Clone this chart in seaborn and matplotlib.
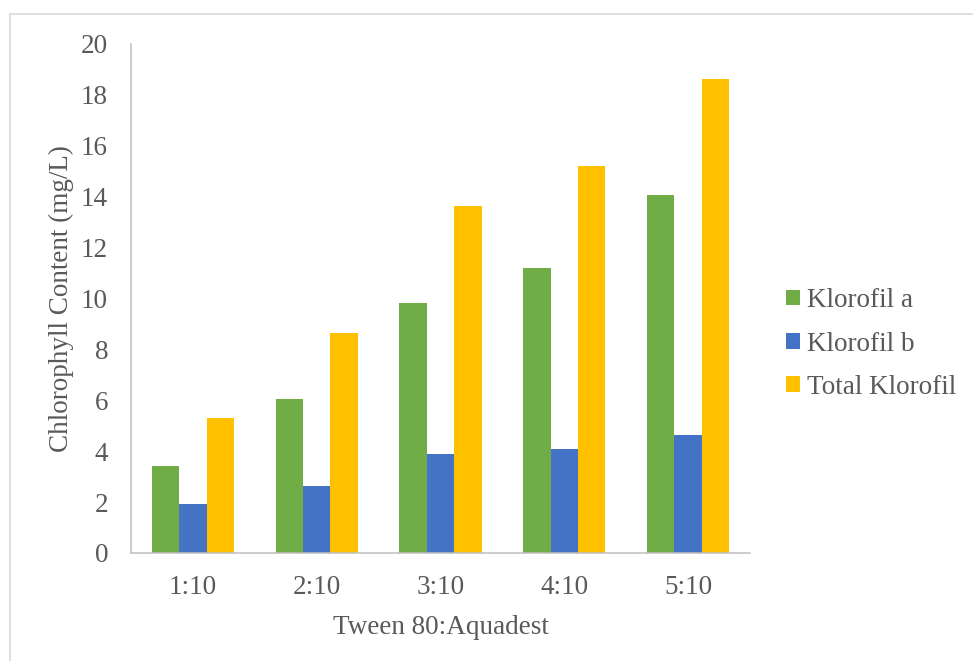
import matplotlib
matplotlib.use("Agg")
import matplotlib.pyplot as plt
from matplotlib.lines import Line2D
from matplotlib.patches import Patch
import seaborn as sns
import pandas as pd

# ---- data ----
categories = ["1:10", "2:10", "3:10", "4:10", "5:10"]
klorofil_a = [3.41, 6.07, 9.81, 11.18, 14.08]
klorofil_b = [1.92, 2.62, 3.88, 4.08, 4.62]
total_klorofil = [5.32, 8.66, 13.65, 15.19, 18.64]
series_names = ["Klorofil a", "Klorofil b", "Total Klorofil"]
colors = ["#70AD47", "#4472C4", "#FFC000"]
y_ticks = [0, 2, 4, 6, 8, 10, 12, 14, 16, 18, 20]

rows = []
for name, vals in zip(series_names, [klorofil_a, klorofil_b, total_klorofil]):
    for c, v in zip(categories, vals):
        rows.append({"Ratio": c, "Series": name, "Value": v})
df = pd.DataFrame(rows)

sns.set_theme(style="white")
plt.rcParams["font.family"] = ["Liberation Serif", "DejaVu Serif"]
text_color = "#595959"
fs = 19.5

fig = plt.figure(figsize=(9.73, 6.61), dpi=100)
ax = fig.add_axes([131 / 973, 1 - 553 / 661, 619 / 973, 509 / 661])

sns.barplot(data=df, x="Ratio", y="Value", hue="Series", order=categories,
            hue_order=series_names, palette=colors, width=0.663,
            linewidth=0, saturation=1, ax=ax, legend=False)

ax.set_xlim(-0.5, 4.5)
ax.set_ylim(0, 20)
ax.set_yticks(y_ticks)
ax.set_yticklabels([str(t) for t in y_ticks])
for s in ["top", "right"]:
    ax.spines[s].set_visible(False)
for s in ["left", "bottom"]:
    ax.spines[s].set_color("#BFBFBF")
    ax.spines[s].set_linewidth(1.1)
ax.tick_params(axis="both", length=0, labelsize=fs, colors=text_color)
ax.tick_params(axis="y", pad=16.5)
ax.tick_params(axis="x", pad=15.5)

ax.set_xlabel("Tween 80:Aquadest", fontsize=fs, color=text_color, labelpad=11)
ax.set_ylabel("Chlorophyll Content (mg/L)", fontsize=fs, color=text_color)
ax.yaxis.set_label_coords(-0.113, 0.5)
ax.yaxis.label.set_va("center")

handles = [Patch(facecolor=c, edgecolor="none") for c in colors]
fig.legend(handles, series_names, loc="center left",
           bbox_to_anchor=(786 / 973, 1 - 344 / 661), frameon=False,
           fontsize=fs, labelcolor=text_color, handlelength=0.52,
           handleheight=0.52, handletextpad=0.25, labelspacing=0.68,
           borderpad=0, borderaxespad=0)

# outer chart border (top and left visible)
fig.add_artist(Line2D([10 / 973, 1], [1 - 14 / 661, 1 - 14 / 661],
                      transform=fig.transFigure, color="#D9D9D9", lw=1.2))
fig.add_artist(Line2D([10 / 973, 10 / 973], [0, 1 - 14 / 661],
                      transform=fig.transFigure, color="#D9D9D9", lw=1.2))

fig.savefig("out.png", dpi=100)
